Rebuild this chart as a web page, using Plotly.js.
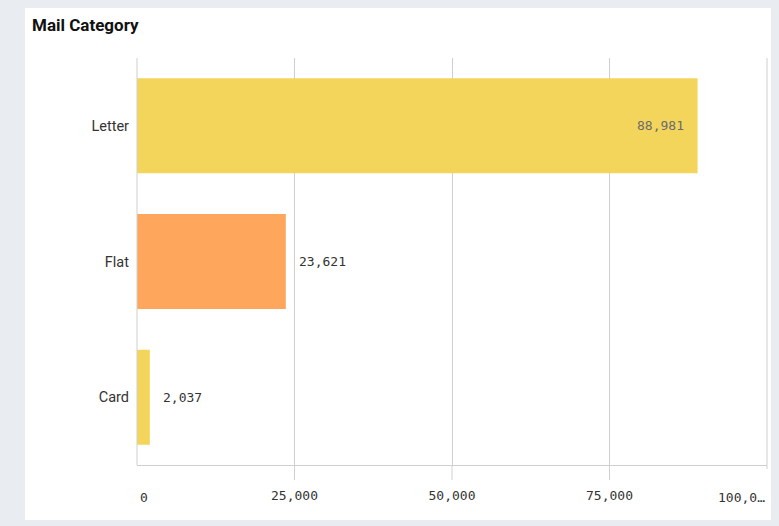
<!DOCTYPE html>
<html>
<head>
<meta charset="utf-8">
<script src="https://cdn.plot.ly/plotly-3.0.1.min.js"></script>
<style>
  html, body { margin: 0; padding: 0; width: 779px; height: 526px; background: #e9edf1; overflow: hidden; }
  #chart { position: absolute; left: 25px; top: 8px; width: 746px; height: 512px; background: #ffffff; }
</style>
</head>
<body>
<div id="chart"></div>
<script>
const categories = ["Letter", "Flat", "Card"];
const values = [88981, 23621, 2037];
const barColors = ["#f3d55b", "#fda65c", "#f3d55b"];
const tickValues = [0, 25000, 50000, 75000, 100000];
const tickLabels = ["0", "25,000", "50,000", "75,000", "100,0…"];
const valueLabels = ["88,981", "23,621", "2,037"];
const insideFlags = [true, false, false];

const monoFont = "DejaVu Sans Mono, monospace";
const lineCol = "#cfcfcf";
const xMax = 100000;

const trace = {
  type: "bar",
  orientation: "h",
  y: categories,
  x: values,
  marker: { color: barColors, line: { width: 0 } },
  hoverinfo: "none"
};

const annotations = [];
values.forEach((v, i) => {
  annotations.push({
    x: v, y: categories[i], xref: "x", yref: "y",
    text: valueLabels[i], showarrow: false,
    xanchor: insideFlags[i] ? "right" : "left",
    xshift: insideFlags[i] ? -12 : 11,
    font: { family: monoFont, size: 13, color: insideFlags[i] ? "#6b6b6b" : "#333333" }
  });
});
// edge tick labels, aligned inward like the reference
annotations.push({
  x: tickValues[0], y: 0, xref: "x", yref: "paper", yanchor: "middle",
  yshift: -32, xanchor: "left", xshift: 1,
  text: tickLabels[0], showarrow: false,
  font: { family: monoFont, size: 13, color: "#333333" }
});
annotations.push({
  x: tickValues[4], y: 0, xref: "x", yref: "paper", yanchor: "middle",
  yshift: -32, xanchor: "right", xshift: 0,
  text: tickLabels[4], showarrow: false,
  font: { family: monoFont, size: 13, color: "#333333" }
});

// axis frame lines and the outside tick marks (paper refs so they are not clipped)
const shapes = [
  { type: "line", xref: "paper", yref: "paper", x0: 0, x1: 0, y0: 0, y1: 1,
    line: { color: lineCol, width: 1 } },
  { type: "line", xref: "paper", yref: "paper", x0: tickValues[4] / xMax, x1: tickValues[4] / xMax,
    y0: -4 / 407, y1: 1, line: { color: lineCol, width: 1 } }
];
tickValues.slice(1, 4).forEach(t => {
  shapes.push({ type: "line", xref: "paper", yref: "paper", x0: t / xMax, x1: t / xMax,
    y0: -15 / 407, y1: 0, line: { color: lineCol, width: 1 } });
});

const layout = {
  width: 746, height: 512,
  paper_bgcolor: "#ffffff", plot_bgcolor: "#ffffff",
  margin: { l: 112, r: 4, t: 50, b: 55 },
  showlegend: false,
  bargap: 0.3,
  title: {
    text: "<b>Mail Category</b>",
    x: 7 / 746, xanchor: "left", xref: "container",
    y: 1 - 17 / 512, yanchor: "middle", yref: "container",
    font: { family: "Roboto, sans-serif", size: 17, color: "#111111" }
  },
  xaxis: {
    range: [0, xMax],
    tickvals: tickValues.slice(1, 4),
    ticktext: tickLabels.slice(1, 4),
    ticks: "",
    ticklabelstandoff: 18,
    showgrid: true, gridcolor: lineCol, gridwidth: 1,
    zeroline: false,
    showline: true, linecolor: lineCol, linewidth: 1, mirror: false,
    tickfont: { family: monoFont, size: 13, color: "#333333" },
    fixedrange: true
  },
  yaxis: {
    autorange: "reversed",
    showgrid: false, zeroline: false,
    showline: false,
    ticks: "", ticklabelstandoff: 7,
    tickfont: { family: "Roboto, sans-serif", size: 14.5, color: "#333333" },
    fixedrange: true
  },
  shapes: shapes,
  annotations: annotations
};

Plotly.newPlot("chart", [trace], layout, { displayModeBar: false, staticPlot: true });
</script>
</body>
</html>
